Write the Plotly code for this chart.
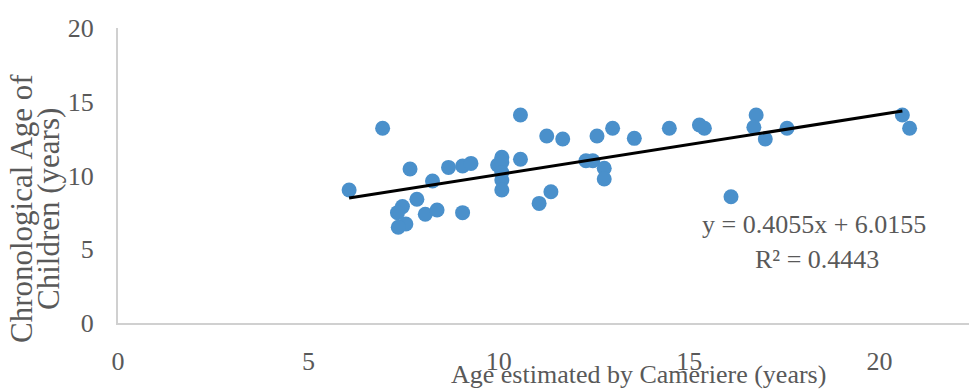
import plotly.graph_objects as go

# Age estimated by Cameriere (years) vs chronological age (years)
est_age = [6.07, 6.95, 7.67, 8.26, 7.85, 7.47, 7.34, 7.56, 7.36, 8.07, 8.38,
           8.68, 9.05, 9.27, 9.05, 9.97, 10.08, 10.08, 10.08, 10.08, 10.08,
           10.57, 10.57, 11.26, 11.68, 11.37, 11.06, 12.29, 12.47, 12.58,
           12.99, 12.77, 12.77, 13.56, 14.48, 15.27, 15.40, 16.76, 16.70,
           17.00, 17.57, 16.10, 20.60, 20.79]
chron_age = [9.02, 13.20, 10.44, 9.63, 8.39, 7.89, 7.48, 6.71, 6.49, 7.37, 7.66,
             10.55, 10.64, 10.82, 7.48, 10.71, 11.23, 10.90, 10.20, 9.70, 9.02,
             14.10, 11.10, 12.68, 12.47, 8.90, 8.11, 11.00, 11.00, 12.68,
             13.20, 10.49, 9.76, 12.52, 13.20, 13.42, 13.20, 14.10, 13.27,
             12.47, 13.20, 8.56, 14.10, 13.20]

slope = 0.4055
intercept = 6.0155
trend_x = [min(est_age), max(est_age) - 0.19]
trend_y = [slope * v + intercept for v in trend_x]

x_ticks = [0, 5, 10, 15, 20]
y_ticks = [0, 5, 10, 15, 20]

font_family = "Liberation Serif, Times New Roman, serif"
gray = "#595959"

L, R, T, B = 118, 1, 28, 66
PW, PH = 970 - L - R, 389 - T - B


def px(xp):
    return (xp - L) / PW


def py(yp):
    return (389 - B - yp) / PH


fig = go.Figure()
fig.add_trace(go.Scatter(x=est_age, y=chron_age, mode="markers",
                         marker=dict(size=15, color="#4A90CB"),
                         showlegend=False))
fig.add_trace(go.Scatter(x=trend_x, y=trend_y, mode="lines",
                         line=dict(color="#000000", width=3),
                         showlegend=False))

fig.update_layout(
    width=970, height=389,
    margin=dict(l=L, r=R, t=T, b=B),
    paper_bgcolor="white", plot_bgcolor="white",
    font=dict(family=font_family, color=gray),
    xaxis=dict(range=[0, 22.35], tickvals=x_ticks, showgrid=False, automargin=False,
               zeroline=False, showline=True, linecolor="#D0D0D0", linewidth=2,
               tickfont=dict(size=26, color=gray), ticks="outside",
               ticklen=14, tickcolor="rgba(0,0,0,0)"),
    yaxis=dict(range=[0, 20], tickvals=y_ticks, showgrid=False, automargin=False,
               zeroline=False, showline=True, linecolor="#D0D0D0", linewidth=2,
               tickfont=dict(size=26, color=gray), ticks="outside",
               ticklen=17, tickcolor="rgba(0,0,0,0)"),
)

fig.add_annotation(text="Age estimated by Cameriere (years)", xref="paper", yref="paper",
                   x=px(638), y=py(374), showarrow=False,
                   font=dict(size=26, color=gray), xanchor="center", yanchor="middle")
fig.add_annotation(text="Chronological Age of", xref="paper", yref="paper",
                   x=px(21), y=py(209), showarrow=False, textangle=-90,
                   font=dict(size=31, color=gray), xanchor="center", yanchor="middle")
fig.add_annotation(text="Children (years)", xref="paper", yref="paper",
                   x=px(48), y=py(209), showarrow=False, textangle=-90,
                   font=dict(size=31, color=gray), xanchor="center", yanchor="middle")
fig.add_annotation(text="y = 0.4055x + 6.0155", xref="paper", yref="paper",
                   x=px(814), y=py(224), showarrow=False,
                   font=dict(size=26, color=gray), xanchor="center", yanchor="middle")
fig.add_annotation(text="R² = 0.4443", xref="paper", yref="paper",
                   x=px(817), y=py(259), showarrow=False,
                   font=dict(size=26, color=gray), xanchor="center", yanchor="middle")

fig.write_html("out.html", config={"displayModeBar": False},
               post_script="document.body.style.margin='0px';document.body.style.overflow='hidden';")
